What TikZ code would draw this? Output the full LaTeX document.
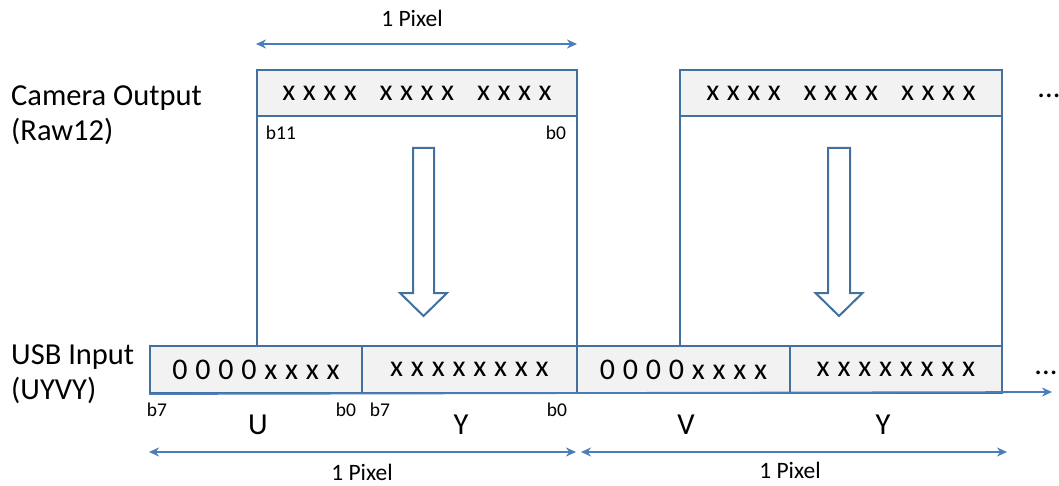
\documentclass[tikz,border=0pt]{standalone}
\usepackage{fontspec}
\setmainfont{Carlito}
\newfontfamily\spacedfont[LetterSpace=26]{Carlito}
\newfontfamily\headfont[LetterSpace=25,WordSpace=1.6]{Carlito}
\usetikzlibrary{arrows.meta}
\definecolor{boxblue}{HTML}{41719C}
\definecolor{arrblue}{HTML}{4A7EBB}
\definecolor{cellgrey}{HTML}{F2F2F2}
\newcommand\labfont{\fontsize{30.5}{35}\selectfont}
\newcommand\bitfont{\spacedfont\fontsize{30}{34}\selectfont}
\newcommand\hdfont{\headfont\fontsize{30}{34}\selectfont}
\newcommand\smallfont{\fontsize{19.5}{22}\selectfont}
\newcommand\dimfont{\fontsize{23.5}{26}\selectfont}
\begin{document}
\begin{tikzpicture}[x=1pt,y=-1pt,
  frame/.style={draw=boxblue, line width=2pt, anchor=north west, inner sep=0pt},
  cellbox/.style={frame, fill=cellgrey, font=\bitfont},
  headbox/.style={frame, fill=cellgrey, font=\hdfont},
  dimarrow/.style={draw=arrblue, line width=1.8pt, {Stealth[length=10pt,width=9pt]}-{Stealth[length=10pt,width=9pt]}},
  axis/.style={draw=arrblue, line width=1.8pt, -{Stealth[length=10pt,width=9pt]}},
  lbl/.style={font=\labfont, inner sep=0pt},
  dimlbl/.style={font=\dimfont, inner sep=0pt},
  bitlbl/.style={font=\smallfont, inner sep=0pt},
  hollow/.style={draw=boxblue, line width=2pt, fill=white}
]
\useasboundingbox (0,0) rectangle (1059,486);

% frames of the camera pixels
\node[frame, minimum width=320, minimum height=276] (f1) at (256,69) {};
\node[frame, minimum width=322, minimum height=276] (f2) at (679,69) {};
\node[headbox, minimum width=320, minimum height=46] (h1) at (256,69) {xxxx xxxx xxxx};
\node[headbox, minimum width=322, minimum height=46] (h2) at (679,69) {xxxx xxxx xxxx};

% bottom cells
\node[cellbox, minimum width=212, minimum height=47] (c1) at (149,345) {0000xxxx};
\node[cellbox, minimum width=215, minimum height=47] (c2) at (361,345) {xxxxxxxx};
\node[cellbox, minimum width=213, minimum height=47] (c3) at (576,345) {0000xxxx};
\node[cellbox, minimum width=212, minimum height=47] (c4) at (789,345) {xxxxxxxx};

% hollow arrows
\draw[hollow, shift={(423.5,148)}] (-10.5,0) -- (10.5,0) -- (10.5,145) -- (23.5,145) -- (0,168) -- (-23.5,145) -- (-10.5,145) -- cycle;
\draw[hollow, shift={(839,148)}] (-11,0) -- (11,0) -- (11,145) -- (23.5,145) -- (0,168) -- (-23.5,145) -- (-11,145) -- cycle;

% axis
\coordinate (axend) at (1052,392);
\draw[axis] (c1.south west) -- (axend);

% dimension arrows
\coordinate (t1) at (256,44);
\coordinate (t2) at (577,44);
\draw[dimarrow] (t1) -- (t2);
\node[dimlbl] (tl) at (412,18) {1 Pixel};
\coordinate (b1) at (149,452);
\coordinate (b2) at (576,452);
\coordinate (b3) at (581,452);
\coordinate (b4) at (1007,452);
\draw[dimarrow] (b1) -- (b2);
\draw[dimarrow] (b3) -- (b4);
\node[dimlbl] (bl1) at (362,472) {1 Pixel};
\node[dimlbl] (bl2) at (790,470) {1 Pixel};

% side labels
\node[lbl, anchor=west, align=left] (cam) at (11,115) {Camera Output\\(Raw12)};
\node[lbl, anchor=west, align=left] (usb) at (11,374) {USB Input\\(UYVY)};
\node[lbl] (dots1) at (1049,96) {...};
\node[lbl] (dots2) at (1046,373) {...};

% bit labels
\node[bitlbl] (b11) at (281,133) {b11};
\node[bitlbl] (b0a) at (556,133) {b0};
\node[bitlbl] (b7a) at (157,410) {b7};
\node[bitlbl] (b0b) at (346,410) {b0};
\node[bitlbl] (b7b) at (380,410) {b7};
\node[bitlbl] (b0c) at (557,410) {b0};

% component labels
\node[lbl] (u) at (258,425) {U};
\node[lbl] (y1) at (461,425) {Y};
\node[lbl] (v) at (686,425) {V};
\node[lbl] (y2) at (883,425) {Y};
\end{tikzpicture}
\end{document}
